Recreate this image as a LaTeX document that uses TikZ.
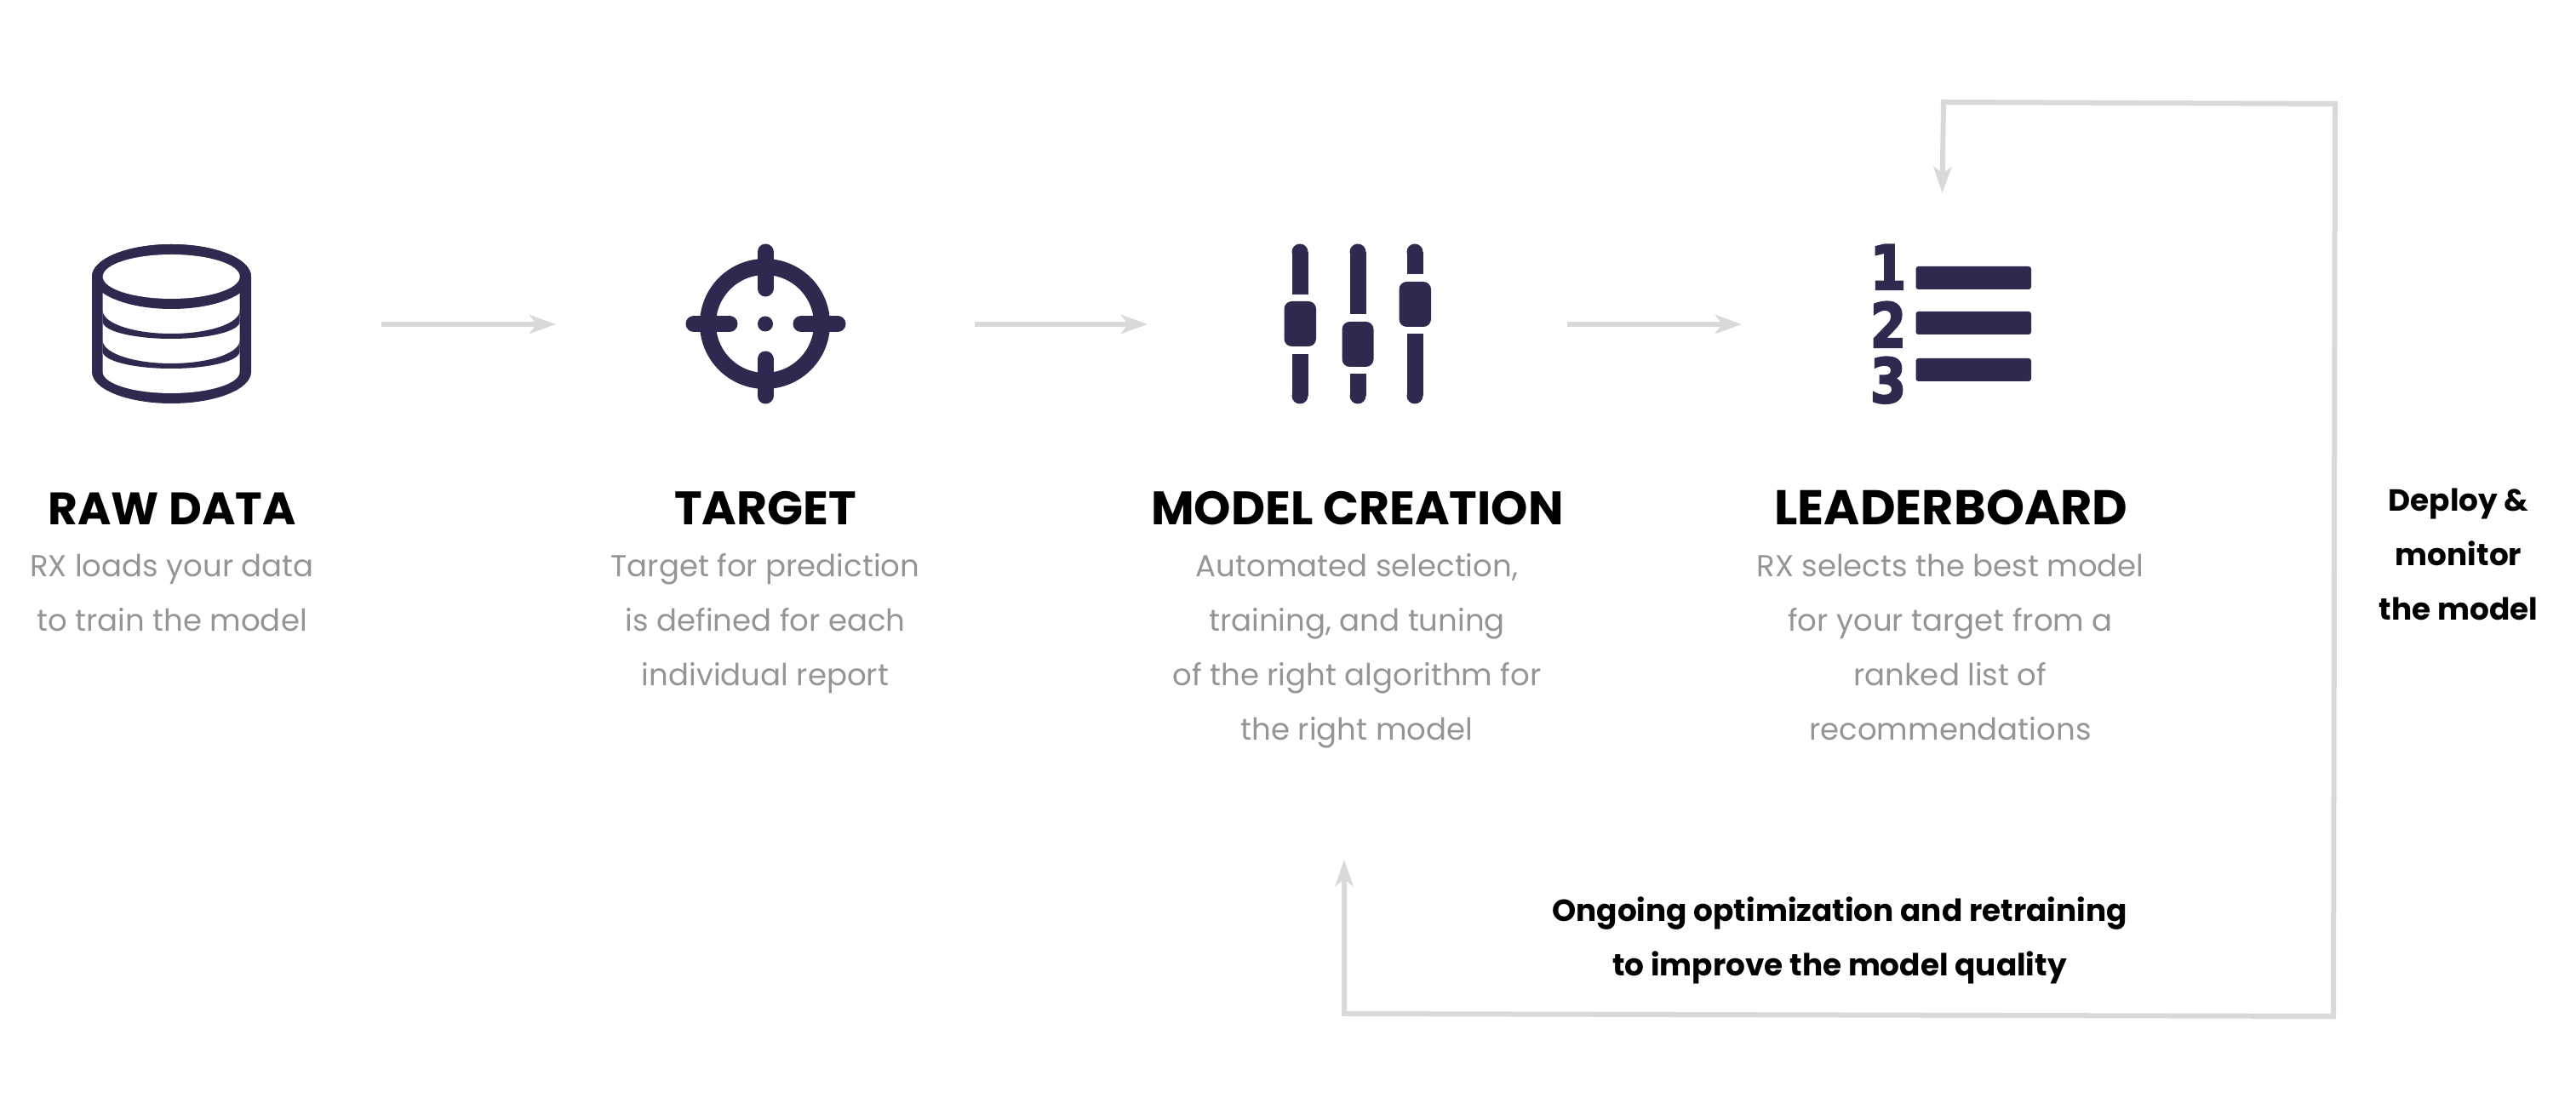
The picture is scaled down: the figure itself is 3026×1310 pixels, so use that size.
\documentclass[tikz,border=0pt]{standalone}
\usepackage{fontspec}
\setmainfont{Poppins}
\newfontfamily\digitfont[BoldFeatures={FakeBold=3}]{DejaVu Sans}
\usetikzlibrary{arrows.meta}
\definecolor{iconc}{HTML}{2E2A4F}
\definecolor{linec}{HTML}{D9D9D9}
\definecolor{subc}{HTML}{959595}
\newcommand{\pxfont}[2]{\fontsize{#1}{#2}\selectfont}
\tikzset{
  x=0.01cm,y=-0.01cm,
  flow/.style={draw=linec,line width=0.06cm,-{Stealth[length=0.31cm,width=0.22cm,inset=0.08cm,color=linec]}},
  loopline/.style={draw=linec,line width=0.06cm,line join=miter,{Stealth[length=0.31cm,width=0.21cm,inset=0.08cm,color=linec]}-{Stealth[length=0.31cm,width=0.21cm,inset=0.08cm,color=linec]}},
  heading/.style={anchor=base,inner sep=0pt,font=\bfseries\pxfont{15.7}{19},text=black},
  sub/.style={anchor=base,inner sep=0pt,font=\pxfont{10.1}{12},text=subc},
  strong/.style={anchor=base,inner sep=0pt,font=\bfseries\pxfont{10.2}{12},text=black},
  iconline/.style={draw=iconc,line width=0.19cm,line cap=round},
  iconfill/.style={fill=iconc,draw=none},
  digit/.style={anchor=base,inner sep=0pt,text=iconc,font=\digitfont\bfseries\pxfont{20.5}{24}},
}
\begin{document}
\begin{tikzpicture}
\useasboundingbox (0,0) rectangle (3026,1310);
% database
\fill[iconc] (108,325) arc[x radius=93.5,y radius=38,start angle=180,end angle=360] -- (295,437) arc[x radius=93.5,y radius=37,start angle=0,end angle=180] -- cycle;
\fill[white] (120.7,325) -- (120.7,437) arc[x radius=80.45,y radius=25,start angle=180,end angle=0] -- (281.6,325) -- cycle;
\fill[iconc] (201.5,325) ellipse[x radius=93.5,y radius=38];
\fill[white] (201.2,325) ellipse[x radius=80.5,y radius=26];
\fill[iconc] (120.7,365) arc[x radius=80.45,y radius=27,start angle=180,end angle=0] -- (281.6,378) arc[x radius=80.45,y radius=20,start angle=0,end angle=180] -- cycle;
\fill[iconc] (120.7,400) arc[x radius=80.45,y radius=27,start angle=180,end angle=0] -- (281.6,413) arc[x radius=80.45,y radius=20,start angle=0,end angle=180] -- cycle;
% target
\draw[draw=iconc,line width=0.19cm] (898.5,380.5) circle[radius=67];
\draw[iconline] (899,296) -- (899,339);
\draw[iconline] (899,422) -- (899,465);
\draw[iconline] (815,380.5) -- (857,380.5);
\draw[iconline] (941,380.5) -- (984,380.5);
\fill[iconc] (899,380.5) circle[radius=9];
% sliders
\draw[iconline,line cap=butt] (1527,296) -- (1527,346);
\fill[iconc] (1527,296) circle[radius=9.5];
\draw[iconline,line cap=butt] (1527,416) -- (1527,465);
\fill[iconc] (1527,465) circle[radius=9.5];
\fill[iconfill,rounded corners=0.09cm] (1508.5,354) rectangle (1546,407);
\draw[iconline,line cap=butt] (1595,296) -- (1595,369);
\fill[iconc] (1595,296) circle[radius=9.5];
\draw[iconline,line cap=butt] (1595,439) -- (1595,465);
\fill[iconc] (1595,465) circle[radius=9.5];
\fill[iconfill,rounded corners=0.09cm] (1576.5,378) rectangle (1613.5,431);
\draw[iconline,line cap=butt] (1662,296) -- (1662,322);
\fill[iconc] (1662,296) circle[radius=9.5];
\draw[iconline,line cap=butt] (1662,392) -- (1662,465);
\fill[iconc] (1662,465) circle[radius=9.5];
\fill[iconfill,rounded corners=0.09cm] (1643.5,331) rectangle (1681,384);
% leaderboard
\node[digit] (d1) at (2218,340) {\scalebox{0.85}[1]{1}};
\node[digit] (d2) at (2218,408) {\scalebox{0.85}[1]{2}};
\node[digit] (d3) at (2218,473) {\scalebox{0.85}[1]{3}};
\fill[iconfill,rounded corners=0.03cm] (2250.5,313) rectangle (2386,340);
\fill[iconfill,rounded corners=0.03cm] (2250.5,366) rectangle (2386,393);
\fill[iconfill,rounded corners=0.03cm] (2250.5,421) rectangle (2386,448);
% arrows
\coordinate (a1s) at (448,381); \coordinate (a1e) at (653,381);
\coordinate (a2s) at (1145,381); \coordinate (a2e) at (1348,381);
\coordinate (a3s) at (1841,381); \coordinate (a3e) at (2046,381);
\draw[flow] (a1s) -- (a1e);
\draw[flow] (a2s) -- (a2e);
\draw[flow] (a3s) -- (a3e);
\coordinate (l1) at (2281.5,227); \coordinate (l2) at (2283,120); \coordinate (l3) at (2743,122);
\coordinate (l4) at (2741,1194); \coordinate (l5) at (1579,1191); \coordinate (l6) at (1579,1010);
\draw[loopline] (l1) -- (l2) -- (l3) -- (l4) -- (l5) -- (l6);
% text
\node[heading,font=\bfseries\pxfont{15.2}{19}] (h1) at (202,617) {RAW DATA};
\node[sub] (t11) at (202,678) {RX loads your data};
\node[sub] (t12) at (202,742) {to train the model};
\node[heading] (h2) at (899,617) {TARGET};
\node[sub] (t21) at (899,678) {Target for prediction};
\node[sub] (t22) at (899,742) {is defined for each};
\node[sub] (t23) at (899,806) {individual report};
\node[heading] (h3) at (1594.5,617) {MODEL CREATION};
\node[sub] (t31) at (1594,678) {Automated selection,};
\node[sub] (t32) at (1594,742) {training, and tuning};
\node[sub] (t33) at (1594,806) {of the right algorithm for};
\node[sub] (t34) at (1594,870) {the right model};
\node[heading,font=\bfseries\pxfont{16.3}{19}] (h4) at (2292,617) {LEADERBOARD};
\node[sub] (t41) at (2291,678) {RX selects the best model};
\node[sub] (t42) at (2291,742) {for your target from a};
\node[sub] (t43) at (2291,806) {ranked list of};
\node[sub] (t44) at (2291,870) {recommendations};
\node[strong] (c1) at (2888,601) {Deploy \&};
\node[strong] (c2) at (2888,665) {monitor};
\node[strong] (c3) at (2888,729) {the model};
\node[strong] (f1) at (2161,1083) {Ongoing optimization and retraining};
\node[strong] (f2) at (2161,1147) {to improve the model quality};
\end{tikzpicture}
\end{document}
